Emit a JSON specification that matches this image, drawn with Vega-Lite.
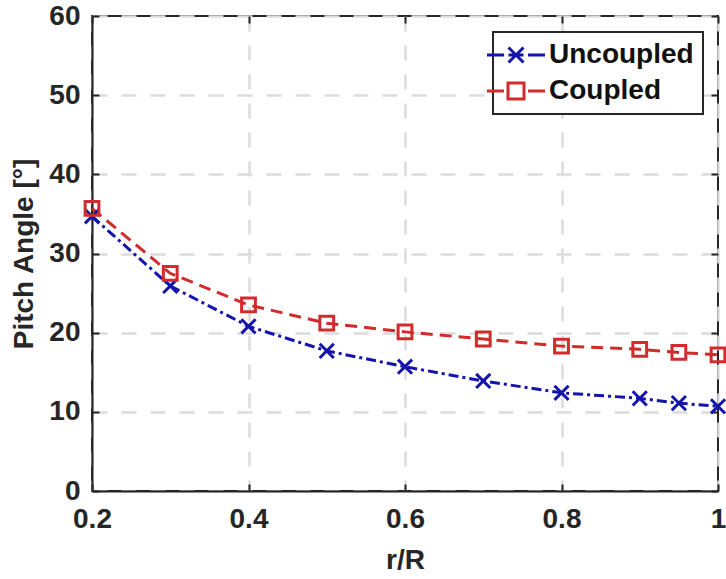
{
  "$schema": "https://vega.github.io/schema/vega-lite/v6.json",
  "width": 626,
  "height": 475,
  "autosize": {"type": "none"},
  "padding": {"left": 92, "top": 16, "right": 8, "bottom": 88},
  "background": "white",
  "config": {
    "view": {"stroke": "#262626", "strokeWidth": 2},
    "font": "Liberation Sans",
    "legend": {"strokeWidth": 2},
    "axis": {
      "domainColor": "#262626",
      "domainWidth": 2,
      "tickColor": "#262626",
      "tickWidth": 2,
      "tickSize": -7,
      "labelFont": "Liberation Sans",
      "labelFontSize": 28,
      "labelFontWeight": "bold",
      "labelColor": "#262626",
      "titleFont": "Liberation Sans",
      "titleFontSize": 28,
      "titleFontWeight": "bold",
      "titleColor": "#262626",
      "gridColor": "#dcdcdc",
      "gridWidth": 2.5,
      "gridDash": [15, 14],
      "labelBound": false,
      "labelFlush": false,
      "labelOverlap": false
    }
  },
  "data": {
    "values": [
      {"r": 0.2, "angle": 34.7, "series": "Uncoupled"},
      {"r": 0.3, "angle": 25.9, "series": "Uncoupled"},
      {"r": 0.4, "angle": 20.8, "series": "Uncoupled"},
      {"r": 0.5, "angle": 17.7, "series": "Uncoupled"},
      {"r": 0.6, "angle": 15.7, "series": "Uncoupled"},
      {"r": 0.7, "angle": 13.9, "series": "Uncoupled"},
      {"r": 0.8, "angle": 12.4, "series": "Uncoupled"},
      {"r": 0.9, "angle": 11.7, "series": "Uncoupled"},
      {"r": 0.95, "angle": 11.1, "series": "Uncoupled"},
      {"r": 1.0, "angle": 10.7, "series": "Uncoupled"},
      {"r": 0.2, "angle": 35.7, "series": "Coupled"},
      {"r": 0.3, "angle": 27.5, "series": "Coupled"},
      {"r": 0.4, "angle": 23.5, "series": "Coupled"},
      {"r": 0.5, "angle": 21.2, "series": "Coupled"},
      {"r": 0.6, "angle": 20.1, "series": "Coupled"},
      {"r": 0.7, "angle": 19.2, "series": "Coupled"},
      {"r": 0.8, "angle": 18.3, "series": "Coupled"},
      {"r": 0.9, "angle": 17.9, "series": "Coupled"},
      {"r": 0.95, "angle": 17.5, "series": "Coupled"},
      {"r": 1.0, "angle": 17.2, "series": "Coupled"}
    ]
  },
  "encoding": {
    "x": {
      "field": "r", "type": "quantitative",
      "scale": {"domain": [0.2, 1], "nice": false, "zero": false}
    },
    "y": {
      "field": "angle", "type": "quantitative",
      "scale": {"domain": [0, 60], "nice": false}
    },
    "color": {
      "field": "series", "type": "nominal",
      "scale": {"domain": ["Uncoupled", "Coupled"], "range": ["#1414aa", "#d22b2b"]},
      "legend": null
    }
  },
  "layer": [
    {
      "mark": {"type": "line", "strokeWidth": 3},
      "encoding": {
        "x": {
          "field": "r", "type": "quantitative",
          "axis": {"values": [0.2, 0.4, 0.6, 0.8, 1], "format": "~g", "title": "r/R", "labelPadding": 21, "titlePadding": 13, "grid": true}
        },
        "y": {
          "field": "angle", "type": "quantitative",
          "axis": {"values": [0, 10, 20, 30, 40, 50, 60], "title": "Pitch Angle [°]", "labelPadding": 19, "titlePadding": 10, "grid": true}
        },
        "strokeDash": {
          "field": "series", "type": "nominal",
          "scale": {"domain": ["Uncoupled", "Coupled"], "range": [[10, 4, 3, 4], [12, 7]]},
          "legend": null
        }
      }
    },
    {
      "transform": [{"filter": "datum.series === 'Uncoupled'"}],
      "mark": {"type": "point", "filled": false, "strokeWidth": 3, "opacity": 1, "shape": "M-1,-1L1,1M-1,1L1,-1", "size": 200},
      "encoding": {
        "x": {
          "field": "r", "type": "quantitative",
          "axis": {"orient": "top", "values": [0.2, 0.4, 0.6, 0.8, 1], "labels": false, "title": null, "grid": false, "domain": false}
        },
        "y": {
          "field": "angle", "type": "quantitative",
          "axis": {"orient": "right", "values": [0, 10, 20, 30, 40, 50, 60], "labels": false, "title": null, "grid": false, "domain": false}
        }
      }
    },
    {
      "transform": [{"filter": "datum.series === 'Coupled'"}],
      "mark": {"type": "point", "filled": false, "strokeWidth": 3, "opacity": 1, "shape": "square", "size": 190},
      "encoding": {
        "x": {"field": "r", "type": "quantitative", "axis": null},
        "y": {"field": "angle", "type": "quantitative", "axis": null}
      }
    },
    {
      "mark": {"type": "point", "filled": false, "strokeWidth": 3, "opacity": 0},
      "encoding": {
        "x": {"field": "r", "type": "quantitative", "axis": null},
        "y": {"field": "angle", "type": "quantitative", "axis": null},
        "color": {
          "field": "series", "type": "nominal",
          "legend": {
            "title": null,
            "orient": "none",
            "legendX": 401,
            "legendY": 16,
            "strokeColor": "#262626",
            "fillColor": "white",
            "padding": 9,
            "labelFont": "Liberation Sans",
            "labelFontSize": 28,
            "labelFontWeight": "bold",
            "labelColor": "#111111",
            "symbolSize": 400,
            "symbolStrokeWidth": 3,
            "symbolOpacity": 1,
            "symbolFillColor": "transparent",
            "labelOffset": 19,
            "rowPadding": 8
          }
        },
        "shape": {
          "field": "series", "type": "nominal",
          "scale": {"domain": ["Uncoupled", "Coupled"], "range": [
            "M-2.9,0H-1.2M1.2,0H2.9M-0.75,-0.75L0.75,0.75M-0.75,0.75L0.75,-0.75M-0.75,0H0.75",
            "M-2.9,0H-1.2M1.2,0H2.9M-0.8,-0.8H0.8V0.8H-0.8Z"
          ]},
          "legend": {
            "title": null,
            "orient": "none",
            "legendX": 401,
            "legendY": 16,
            "strokeColor": "#262626",
            "fillColor": "white",
            "padding": 9,
            "labelFont": "Liberation Sans",
            "labelFontSize": 28,
            "labelFontWeight": "bold",
            "labelColor": "#111111",
            "symbolSize": 400,
            "symbolStrokeWidth": 3,
            "symbolOpacity": 1,
            "symbolFillColor": "transparent",
            "labelOffset": 19,
            "rowPadding": 8
          }
        }
      }
    }
  ],
  "resolve": {
    "axis": {"x": "independent", "y": "independent"},
    "legend": {"color": "independent", "shape": "independent"}
  }
}
